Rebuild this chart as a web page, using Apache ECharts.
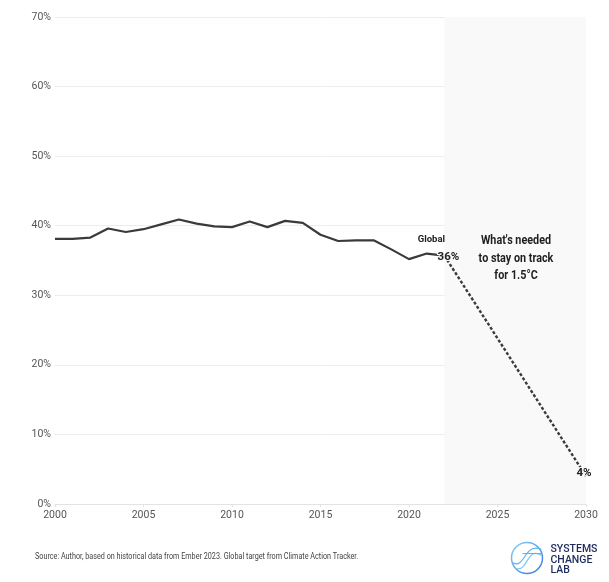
<!DOCTYPE html>
<html>
<head>
<meta charset="utf-8">
<script src="https://cdn.jsdelivr.net/npm/echarts@6/dist/echarts.min.js"></script>
<style>
  html, body { margin: 0; padding: 0; background: #fff; }
  #chart { width: 609px; height: 582px; }
</style>
</head>
<body>
<div id="chart"></div>
<script>
var years = [2000, 2001, 2002, 2003, 2004, 2005, 2006, 2007, 2008, 2009, 2010, 2011,
             2012, 2013, 2014, 2015, 2016, 2017, 2018, 2019, 2020, 2021, 2022];
var share = [38.1, 38.1, 38.3, 39.6, 39.1, 39.5, 40.2, 40.9, 40.3, 39.9, 39.8, 40.6,
             39.8, 40.7, 40.4, 38.7, 37.8, 37.9, 37.9, 36.6, 35.2, 36.0, 35.7];
var targetYears = [2022, 2030];
var targetShare = [35.7, 4];
var yTicks = [0, 10, 20, 30, 40, 50, 60, 70];
var xTicks = [2000, 2005, 2010, 2015, 2020, 2025, 2030];

var font = "Roboto, 'Noto Sans', sans-serif";

var chart = echarts.init(document.getElementById('chart'));

var histData = years.map(function(y, i) { return [y, share[i]]; });
var targetData = targetYears.map(function(y, i) { return [y, targetShare[i]]; });
var lastPoint = histData[histData.length - 1];

// end labels sit above the lines, with a halo in the shaded colour
var endLabel = {
    show: true, color: '#222', fontSize: 11.5, fontWeight: 'bold', fontFamily: font,
    textBorderColor: '#f9f9f9', textBorderWidth: 2
};

var option = {
    backgroundColor: '#fff',
    animation: false,
    textStyle: { fontFamily: font },
    grid: { left: 55, right: 23, top: 17, bottom: 78 },
    xAxis: {
        type: 'value',
        min: xTicks[0],
        max: xTicks[xTicks.length - 1],
        interval: 5,
        axisLine: { show: true, lineStyle: { color: '#e3e3e3', width: 1 } },
        axisTick: { show: true, length: 3, lineStyle: { color: '#e3e3e3' } },
        splitLine: { show: false },
        axisLabel: {
            color: '#555', fontSize: 10.5, margin: 6, fontFamily: font,
            formatter: function(v) { return String(v); }
        }
    },
    yAxis: {
        type: 'value',
        min: yTicks[0],
        max: yTicks[yTicks.length - 1],
        interval: 10,
        axisLine: { show: false },
        axisTick: { show: false },
        splitLine: { lineStyle: { color: '#ececec', width: 1 } },
        axisLabel: { color: '#555', fontSize: 10.5, margin: 4, fontFamily: font, formatter: '{value}%' }
    },
    series: [
        {
            name: 'Global',
            type: 'line',
            data: histData,
            symbol: 'none',
            z: 3,
            lineStyle: { color: '#3a3a3a', width: 2.2 },
            markArea: {
                silent: true,
                itemStyle: { color: '#f9f9f9' },
                data: [[{ xAxis: 2022, yAxis: 70 }, { xAxis: 2030, yAxis: 0 }]]
            },
            markPoint: {
                symbol: 'circle',
                symbolSize: 0,
                silent: true,
                z: 10,
                data: [
                    {
                        coord: lastPoint,
                        label: {
                            show: true, formatter: 'Global', color: '#222',
                            fontSize: 9.5, fontWeight: 'bold', fontFamily: font,
                            offset: [-13, -16]
                        }
                    },
                    {
                        coord: lastPoint,
                        label: echarts.util.extend({ formatter: '36%', offset: [4, 1] }, endLabel)
                    }
                ]
            }
        },
        {
            name: 'Target',
            type: 'line',
            data: targetData,
            symbol: 'none',
            z: 2,
            lineStyle: { color: '#3a3a3a', width: 2.4, type: [3, 2] },
            markPoint: {
                symbol: 'circle',
                symbolSize: 0,
                silent: true,
                z: 10,
                data: [{
                    coord: targetData[targetData.length - 1],
                    label: echarts.util.extend({ formatter: '4%', offset: [-2, -3] }, endLabel)
                }]
            }
        }
    ],
    graphic: [
        {
            type: 'text',
            x: 516,
            y: 232,
            scaleX: 0.8,
            z: 10,
            style: {
                text: "What's needed\nto stay on track\nfor 1.5°C",
                fill: '#1f1f1f',
                fontSize: 13.5,
                fontWeight: 'bold',
                lineHeight: 17.5,
                align: 'center',
                verticalAlign: 'top',
                fontFamily: font
            }
        },
        {
            type: 'text',
            x: 35,
            y: 552,
            scaleX: 0.85,
            style: {
                text: 'Source: Author, based on historical data from Ember 2023. Global target from Climate Action Tracker.',
                fill: '#444',
                fontSize: 8.5,
                fontFamily: font
            }
        },
        {
            type: 'group',
            left: 509,
            top: 540,
            children: [
                {
                    type: 'circle',
                    shape: { cx: 16.5, cy: 16.5, r: 15.5 },
                    style: {
                        fill: 'none',
                        lineWidth: 1.5,
                        stroke: new echarts.graphic.LinearGradient(0, 0, 1, 1, [
                            { offset: 0, color: '#8fd6f5' },
                            { offset: 1, color: '#2f6fe0' }
                        ])
                    }
                },
                {
                    type: 'bezierCurve',
                    shape: { x1: 2, y1: 21, x2: 31, y2: 8, cpx1: 14, cpy1: 29, cpx2: 14, cpy2: 0 },
                    style: { fill: 'none', stroke: '#5ab4f0', lineWidth: 1.2 }
                },
                {
                    type: 'bezierCurve',
                    shape: { x1: 5, y1: 27, x2: 31, y2: 14, cpx1: 18, cpy1: 31, cpx2: 16, cpy2: 4 },
                    style: { fill: 'none', stroke: '#7cc8f3', lineWidth: 1.2 }
                },
                {
                    type: 'line',
                    shape: { x1: 12, y1: 12, x2: 31, y2: 12 },
                    style: { stroke: '#5ab4f0', lineWidth: 1 }
                },
                {
                    type: 'text',
                    x: 40,
                    y: 3,
                    style: {
                        text: 'SYSTEMS\nCHANGE\nLAB',
                        fill: '#1d2b5c',
                        fontSize: 10.5,
                        lineHeight: 10.5,
                        fontWeight: 500,
                        fontFamily: font
                    }
                }
            ]
        }
    ]
};

chart.setOption(option);
</script>
</body>
</html>
